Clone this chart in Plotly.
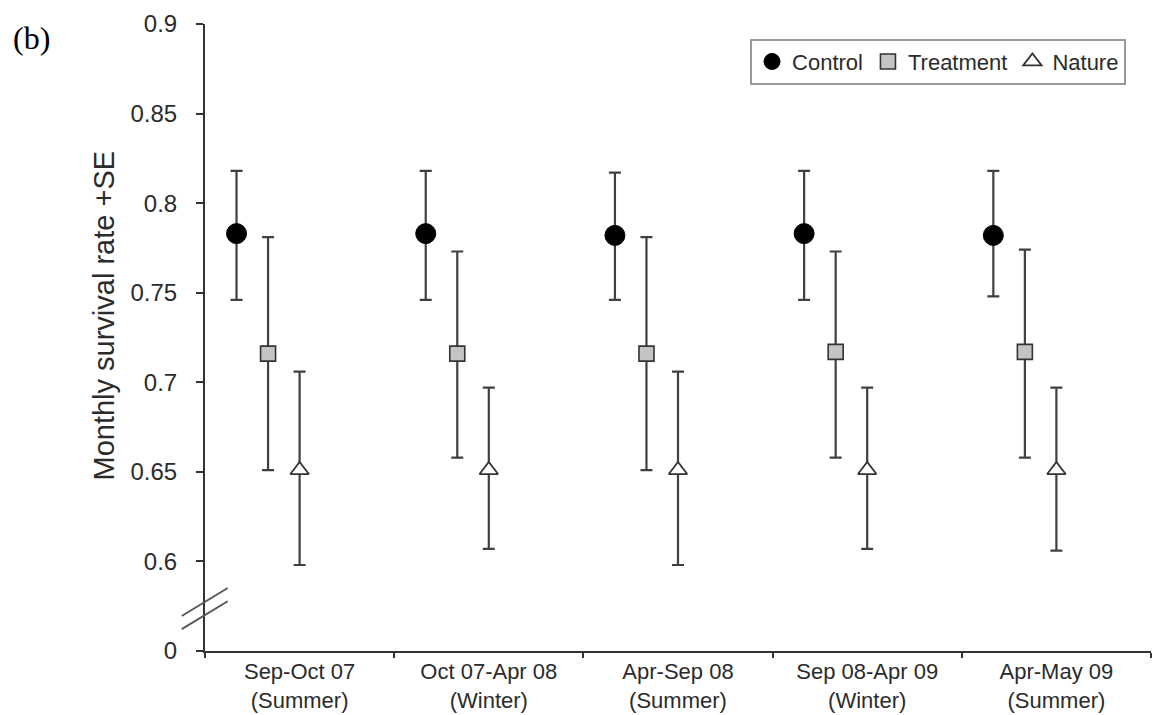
import plotly.graph_objects as go

categories = ["Sep-Oct 07<br>(Summer)", "Oct 07-Apr 08<br>(Winter)", "Apr-Sep 08<br>(Summer)",
              "Sep 08-Apr 09<br>(Winter)", "Apr-May 09<br>(Summer)"]

control = [0.783, 0.783, 0.782, 0.783, 0.782]
control_hi = [0.818, 0.818, 0.817, 0.818, 0.818]
control_lo = [0.746, 0.746, 0.746, 0.746, 0.748]

treatment = [0.716, 0.716, 0.716, 0.717, 0.717]
treatment_hi = [0.781, 0.773, 0.781, 0.773, 0.774]
treatment_lo = [0.651, 0.658, 0.651, 0.658, 0.658]

nature = [0.651, 0.651, 0.651, 0.651, 0.651]
nature_hi = [0.706, 0.697, 0.706, 0.697, 0.697]
nature_lo = [0.598, 0.607, 0.598, 0.607, 0.606]

y_tickvals = [0.55, 0.6, 0.65, 0.7, 0.75, 0.8, 0.85, 0.9]
y_ticktext = ["0", "0.6", "0.65", "0.7", "0.75", "0.8", "0.85", "0.9"]

FONT = "Liberation Sans, Arial, sans-serif"
TXT = "#2b2b2b"
LINE = "#333333"

series = [
    ("Control", control, control_hi, control_lo, -1/3,
     dict(symbol="circle", size=20, color="black", line=dict(color="black", width=1))),
    ("Treatment", treatment, treatment_hi, treatment_lo, -1/6,
     dict(symbol="square", size=15, color="#c4c4c4", line=dict(color="#333333", width=1.6))),
    ("Nature", nature, nature_hi, nature_lo, 0.0,
     dict(symbol="triangle-up", size=16, color="white", line=dict(color="#333333", width=1.8))),
]

fig = go.Figure()
n = len(categories)
for name, vals, hi, lo, off, mk in series:
    xs = [i + off for i in range(n)]
    fig.add_trace(go.Scatter(
        x=xs, y=vals, name=name, mode="markers", marker=mk,
        error_y=dict(type="data", symmetric=False,
                     array=[h - v for h, v in zip(hi, vals)],
                     arrayminus=[v - l for v, l in zip(vals, lo)],
                     color="#404040", thickness=2.2, width=6),
        cliponaxis=False,
    ))

fig.update_layout(
    width=1153, height=715,
    margin=dict(l=205, r=2, t=24, b=58),
    paper_bgcolor="white", plot_bgcolor="white",
    font=dict(family=FONT, size=23, color=TXT),
    showlegend=True,
    legend=dict(orientation="h", x=0.9736, xanchor="right", y=0.9766, yanchor="top",
                bordercolor="#9a9a9a", borderwidth=2, bgcolor="white",
                font=dict(family=FONT, size=22, color=TXT),
                itemwidth=30, tracegroupgap=0, valign="middle"),
    xaxis=dict(range=[-0.5, 4.5], tickmode="array", tickvals=list(range(n)), ticktext=categories,
               ticks="", showline=True, linecolor=LINE, linewidth=2, showgrid=False, zeroline=False,
               tickfont=dict(family=FONT, size=22, color=TXT),
               minor=dict(tickmode="array", tickvals=[i - 0.5 for i in range(n + 1)],
                          ticks="outside", ticklen=5, tickwidth=1.5, tickcolor=LINE, showgrid=False)),
    yaxis=dict(range=[0.55, 0.9], tickmode="array", tickvals=y_tickvals, ticktext=y_ticktext,
               ticks="outside", ticklen=7, tickwidth=2, tickcolor=LINE,
               showline=True, linecolor=LINE, linewidth=2, showgrid=False, zeroline=False,
               tickfont=dict(family=FONT, size=24, color=TXT), ticklabelstandoff=14),
)

# Y-axis title
fig.add_annotation(text="Monthly survival rate +SE", xref="paper", yref="paper",
                   x=-0.1068, y=0.535, xanchor="center", yanchor="middle", textangle=-90,
                   showarrow=False, font=dict(family=FONT, size=29, color=TXT))
# Panel label
fig.add_annotation(text="(b)", xref="paper", yref="paper", x=-0.205, y=1.01,
                   xanchor="left", yanchor="top", showarrow=False,
                   font=dict(family="Liberation Serif, Times New Roman, serif", size=32, color="black"))

# Axis break marks
for y0, y1 in [(0.5695, 0.5852), (0.5622, 0.5778)]:
    fig.add_shape(type="line", xref="paper", yref="y", x0=-0.0246, x1=0.0240, y0=y0, y1=y1,
                  line=dict(color="#555555", width=1.8))

fig.write_html("out.html", config={"displayModeBar": False},
               post_script="document.body.style.margin='0';")
